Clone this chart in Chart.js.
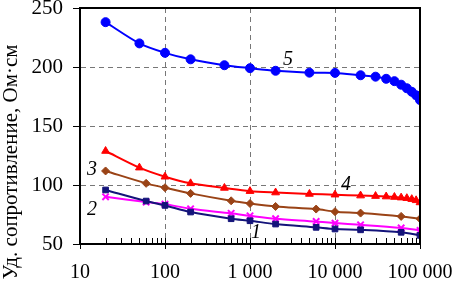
<!DOCTYPE html>
<html lang="ru">
<head>
<meta charset="UTF-8">
<title>Уд. сопротивление</title>
<script src="https://cdn.jsdelivr.net/npm/chart.js"></script>
<style>
  html, body { margin: 0; padding: 0; background: #fff; }
  #wrap { width: 454px; height: 283px; }
</style>
</head>
<body>
<div id="wrap"><canvas id="grafico" width="454" height="283"></canvas></div>
<script>
// частоты (Гц) и значения для каждой кривой
var freq5 = [20, 50, 100, 200, 500, 1000, 2000, 5000, 10000, 20000, 30000, 40000, 50000, 60000, 70000, 80000, 90000, 100000];
var curve5 = [238, 220, 212, 206.5, 201.5, 199, 196.8, 195.2, 195, 193, 191.8, 190, 188, 185, 182, 179, 176, 172];

var freq4 = [20, 50, 100, 200, 500, 1000, 2000, 5000, 10000, 20000, 30000, 40000, 50000, 60000, 70000, 80000, 90000, 100000];
var curve4 = [128.8, 114.7, 107, 101.4, 97.5, 94.8, 93.6, 92.4, 91.8, 91, 90.6, 90.2, 89.8, 89.3, 88.8, 88, 87, 85.2];

var freq3 = [20, 60, 100, 200, 600, 1000, 2000, 6000, 10000, 20000, 60000, 100000];
var curve3 = [111.9, 101.4, 97.7, 92.9, 86.6, 84.3, 81.8, 79.6, 77.4, 76.2, 73.4, 71.4];

var freq2 = [20, 60, 100, 200, 600, 1000, 2000, 6000, 10000, 20000, 60000, 100000];
var curve2 = [90, 85.5, 83.8, 79.8, 76, 73.9, 71.4, 69.1, 67.7, 66.3, 63.6, 61.5];

var freq1 = [20, 60, 100, 200, 600, 1000, 2000, 6000, 10000, 20000, 60000, 100000];
var curve1 = [95.8, 86.4, 82.7, 77.1, 71.4, 69.7, 66.9, 64.1, 62.7, 62, 59.9, 57.3];

var yTicks = [50, 100, 150, 200, 250];

var tituloY = 'Уд. сопротивление, Ом·см';

// номера кривых: [текст, частота, значение]
var nomes = [['5', 2800, 206], ['4', 13500, 100], ['3', 13.8, 112.7], ['2', 13.8, 78.8], ['1', 1175, 59.3]];

function pontos(xs, ys) {
    var lista = [];
    for (let i = 0; i < xs.length; i++) {
        lista.push({ x: xs[i], y: ys[i] });
    }
    return lista;
}

function potencia10(v) {
    var l = Math.log10(v);
    return Math.abs(l - Math.round(l)) < 1e-9;
}

function formatar(v) {
    return String(Math.round(v)).replace(/\B(?=(\d{3})+(?!\d))/g, ' ');
}

const serif = "'Liberation Serif', 'Times New Roman', serif";

// рисуем внутренние штрихи, рамку, подпись оси и номера кривых
const extras = {
    id: 'extras',
    afterDraw(chart) {
        const ctx = chart.ctx;
        const a = chart.chartArea;
        const sx = chart.scales.x;
        const sy = chart.scales.y;
        ctx.save();
        ctx.strokeStyle = '#000';
        ctx.lineWidth = 1;
        sx.ticks.forEach(t => {
            const px = Math.round(sx.getPixelForValue(t.value)) + 0.5;
            ctx.beginPath();
            ctx.moveTo(px, a.bottom);
            ctx.lineTo(px, a.bottom - 6);
            ctx.stroke();
        });
        ctx.lineWidth = 2;
        ctx.strokeRect(a.left, a.top, a.right - a.left, a.bottom - a.top);
        ctx.fillStyle = '#000';
        ctx.font = 'italic 20px ' + serif;
        ctx.textAlign = 'center';
        ctx.textBaseline = 'middle';
        nomes.forEach(n => {
            ctx.fillText(n[0], sx.getPixelForValue(n[1]), sy.getPixelForValue(n[2]));
        });
        // подпись оси Y
        ctx.translate(11, 162);
        ctx.rotate(-Math.PI / 2);
        ctx.font = '21px ' + serif;
        ctx.fillText(tituloY, 0, 0);
        ctx.restore();
    }
};

function serie(xs, ys, cor, estilo, raio, fundo) {
    return {
        data: pontos(xs, ys),
        borderColor: cor,
        backgroundColor: fundo || cor,
        pointBackgroundColor: fundo || cor,
        pointBorderColor: cor,
        pointStyle: estilo,
        pointRadius: raio,
        pointBorderWidth: estilo === 'crossRot' ? 2 : 1,
        borderWidth: 2,
        tension: 0.3,
        fill: false
    };
}

const config = {
    type: 'line',
    data: {
        datasets: [
            serie(freq1, curve1, '#14147a', 'rect', 4),
            serie(freq2, curve2, '#ff00ff', 'crossRot', 4.5),
            serie(freq3, curve3, '#9a4316', 'rectRot', 4),
            serie(freq4, curve4, '#ff0000', 'triangle', 4.5),
            serie(freq5, curve5, '#0000ff', 'circle', 4.5)
        ]
    },
    options: {
        responsive: false,
        animation: false,
        devicePixelRatio: 1,
        layout: { padding: { left: 0, right: 34, top: 8, bottom: 0 } },
        plugins: { legend: { display: false }, tooltip: { enabled: false } },
        scales: {
            x: {
                type: 'logarithmic',
                min: 10,
                max: 100000,
                afterFit: s => { s.height = 39; s.paddingLeft = 0; s.paddingRight = 0; },
                border: { display: true, color: '#000', width: 2, dash: [5, 4] },
                grid: {
                    color: c => (c.tick && potencia10(c.tick.value) ? '#777' : 'rgba(0,0,0,0)'),
                    tickColor: c => (c.tick && potencia10(c.tick.value) ? '#000' : 'rgba(0,0,0,0)'),
                    tickLength: 5,
                    lineWidth: 1
                },
                ticks: {
                    autoSkip: false,
                    maxRotation: 0,
                    padding: 12,
                    color: '#000',
                    font: { family: serif, size: 20 },
                    callback: v => (potencia10(v) ? formatar(v) : '')
                }
            },
            y: {
                min: 50,
                max: 250,
                afterFit: s => { s.width = 80; s.paddingTop = 0; s.paddingBottom = 0; },
                afterBuildTicks: s => { s.ticks = yTicks.map(v => ({ value: v })); },
                border: { display: true, color: '#000', width: 2, dash: [5, 4] },
                grid: { color: '#777', tickColor: '#000', tickLength: 7, lineWidth: 1 },
                ticks: {
                    color: '#000',
                    padding: 10,
                    font: { family: serif, size: 21 }
                }
            }
        }
    },
    plugins: [extras]
};

new Chart(document.getElementById('grafico'), config);
</script>
</body>
</html>
